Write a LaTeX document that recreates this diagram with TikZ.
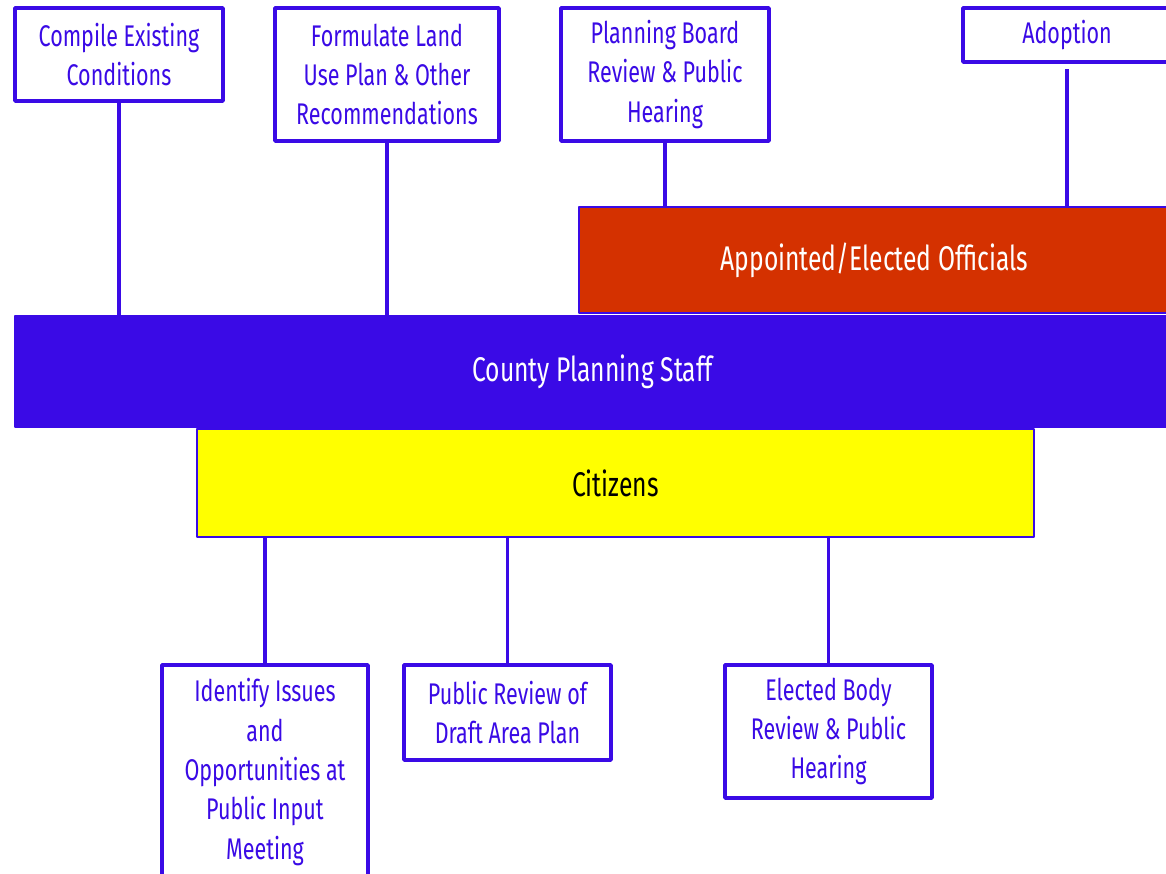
\documentclass[tikz,border=0pt]{standalone}
\usepackage{fontspec}
\setmainfont[FakeStretch=0.72]{Fira Sans}
\definecolor{staffblue}{HTML}{3A0AE6}
\definecolor{officialred}{HTML}{D43100}
\definecolor{citizenyellow}{HTML}{FFFF00}
\begin{document}
\begin{tikzpicture}[x=0.02cm, y=-0.02cm, line join=round,
  stepbox/.style={draw=staffblue, line width=2.2pt, fill=white, text=staffblue, align=center, inner sep=0pt, font=\fontsize{17}{22.4}\selectfont},
  band/.style={draw=staffblue, line width=0.8pt, inner sep=0pt, font=\fontsize{19.5}{24}\selectfont},
  link/.style={draw=staffblue, line width=2.2pt}]
\useasboundingbox (0,0) rectangle (1166,874);
\clip (0,0) rectangle (1166,874);
% bands
\node[band, fill=officialred, text=white, minimum width=11.82cm, minimum height=2.12cm] (officials) at (874.5,260) {Appointed/Elected Officials};
\node[band, fill=staffblue, text=white, minimum width=23.1cm, minimum height=2.22cm] (staff) at (592.5,371.5) {County Planning Staff};
\node[band, fill=citizenyellow, text=black, minimum width=16.74cm, minimum height=2.16cm] (citizens) at (615.5,483) {Citizens};
% steps above
\node[stepbox, minimum width=4.16cm, minimum height=1.86cm] (compile) at (119,54.5) {Compile Existing\\Conditions};
\node[stepbox, minimum width=4.48cm, minimum height=2.66cm] (formulate) at (387,74.5) {Formulate Land\\Use Plan \& Other\\Recommendations};
\node[stepbox, minimum width=4.16cm, minimum height=2.66cm] (board) at (665,74.5) {Planning Board\\Review \& Public\\Hearing};
\node[stepbox, minimum width=4.16cm, minimum height=1.08cm] (adopt) at (1067,35) {Adoption};
% steps below
\node[stepbox, minimum width=4.12cm, minimum height=4.28cm] (identify) at (265,772) {Identify Issues\\and\\Opportunities at\\Public Input\\Meeting};
\node[stepbox, minimum width=4.14cm, minimum height=1.9cm] (review) at (507.5,712.5) {Public Review of\\Draft Area Plan};
\node[stepbox, minimum width=4.14cm, minimum height=2.66cm] (elected) at (828.5,731.5) {Elected Body\\Review \& Public\\Hearing};
% connectors
\draw[link] (compile.south) -- (compile.south |- staff.north);
\draw[link] (formulate.south) -- (formulate.south |- staff.north);
\draw[link] (board.south) -- (board.south |- officials.north);
\draw[link, shorten <=3pt] (adopt.south) -- (adopt.south |- officials.north);
\draw[link] (identify.north) -- (identify.north |- citizens.south);
\draw[link] (review.north) -- (review.north |- citizens.south);
\draw[link] (elected.north) -- (elected.north |- citizens.south);
\end{tikzpicture}
\end{document}
